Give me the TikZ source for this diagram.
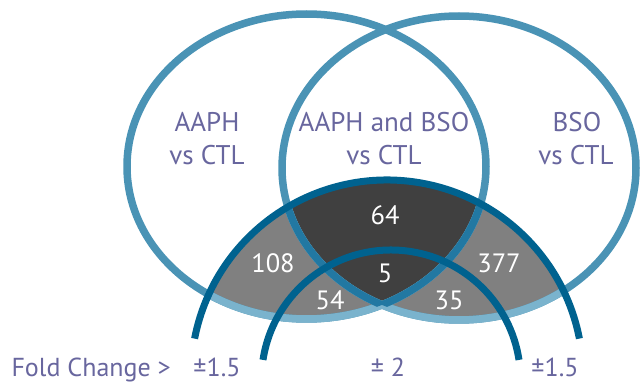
\documentclass[tikz,border=0pt]{standalone}
\usepackage{xcolor}
\usepackage{fontspec}
\setmainfont{PT Sans}
\usepackage{tikz}

\definecolor{ringblue}{RGB}{74,147,181}
\definecolor{ringlight}{RGB}{122,179,205}
\definecolor{ringdark}{RGB}{34,120,162}
\definecolor{foldblue}{RGB}{0,98,143}
\definecolor{setpurple}{RGB}{104,102,158}
\definecolor{setgray}{RGB}{128,128,128}
\definecolor{setdark}{RGB}{64,64,64}

\begin{document}
\begin{tikzpicture}[x=1pt,y=-1pt,
    ring/.style={line width=7.5pt},
    fold/.style={line width=7pt,draw=foldblue},
    setname/.style={anchor=base,text=setpurple,font=\fontsize{27}{32}\selectfont},
    count/.style={anchor=base,text=white,font=\fontsize{26.5}{26}\selectfont},
    foldname/.style={anchor=base,text=setpurple,font=\fontsize{26}{26}\selectfont}]
  \useasboundingbox (0,0) rectangle (641,385);

  %%%% shading below the outer fold change arc
  \begin{scope}
    \clip (387,376) circle[radius=196];
    \fill[setgray] (306.5,166.5) ellipse[x radius=179.5,y radius=152.5];
    \fill[setgray] (459,168) ellipse[x radius=177,y radius=152];
    \clip (306.5,166.5) ellipse[x radius=179.5,y radius=152.5];
    \fill[setdark] (459,168) ellipse[x radius=177,y radius=152];
  \end{scope}

  %%%% the two rings
  \draw[ring,ringblue] (306.5,166.5) ellipse[x radius=179.5,y radius=152.5];
  \draw[ring,ringblue] (459,168) ellipse[x radius=177,y radius=152];
  \begin{scope}
    \clip (387,376) circle[radius=196];
    \draw[ring,ringlight] (306.5,166.5) ellipse[x radius=179.5,y radius=152.5];
    \draw[ring,ringlight] (459,168) ellipse[x radius=177,y radius=152];
    \begin{scope}
      \clip (459,168) ellipse[x radius=177,y radius=152];
      \draw[ring,ringdark] (306.5,166.5) ellipse[x radius=179.5,y radius=152.5];
    \end{scope}
    \begin{scope}
      \clip (306.5,166.5) ellipse[x radius=179.5,y radius=152.5];
      \draw[ring,ringdark] (459,168) ellipse[x radius=177,y radius=152];
    \end{scope}
  \end{scope}

  %%%% fold change arcs
  \draw[fold] (387,376) ++(-169:196) arc[start angle=-169,end angle=-11,radius=196];
  \draw[fold] (391,379.5) ++(-171.3:129.5) arc[start angle=-171.3,end angle=-8.7,radius=129.5];

  \node[setname] (aaph) at (207,132) {AAPH};
  \node[setname] (aaphvs) at (207,165) {vs CTL};
  \node[setname] (both) at (384,132) {AAPH and BSO};
  \node[setname] (bothvs) at (384,165) {vs CTL};
  \node[setname] (bso) at (577,132) {BSO};
  \node[setname] (bsovs) at (576,165) {vs CTL};

  \node[count] (n64) at (385,225) {64};
  \node[count] (n108) at (273,273) {108};
  \node[count] (n5) at (385,283) {5};
  \node[count] (n377) at (499,273) {377};
  \node[count] (n54) at (330,310) {54};
  \node[count] (n35) at (449,310) {35};

  \node[foldname,anchor=base west] (fold) at (8,377) {Fold Change >};
  \node[foldname] (outerl) at (217,377) {±1.5};
  \node[foldname] (inner) at (388,377) {± 2};
  \node[foldname] (outerr) at (555,377) {±1.5};
\end{tikzpicture}
\end{document}
